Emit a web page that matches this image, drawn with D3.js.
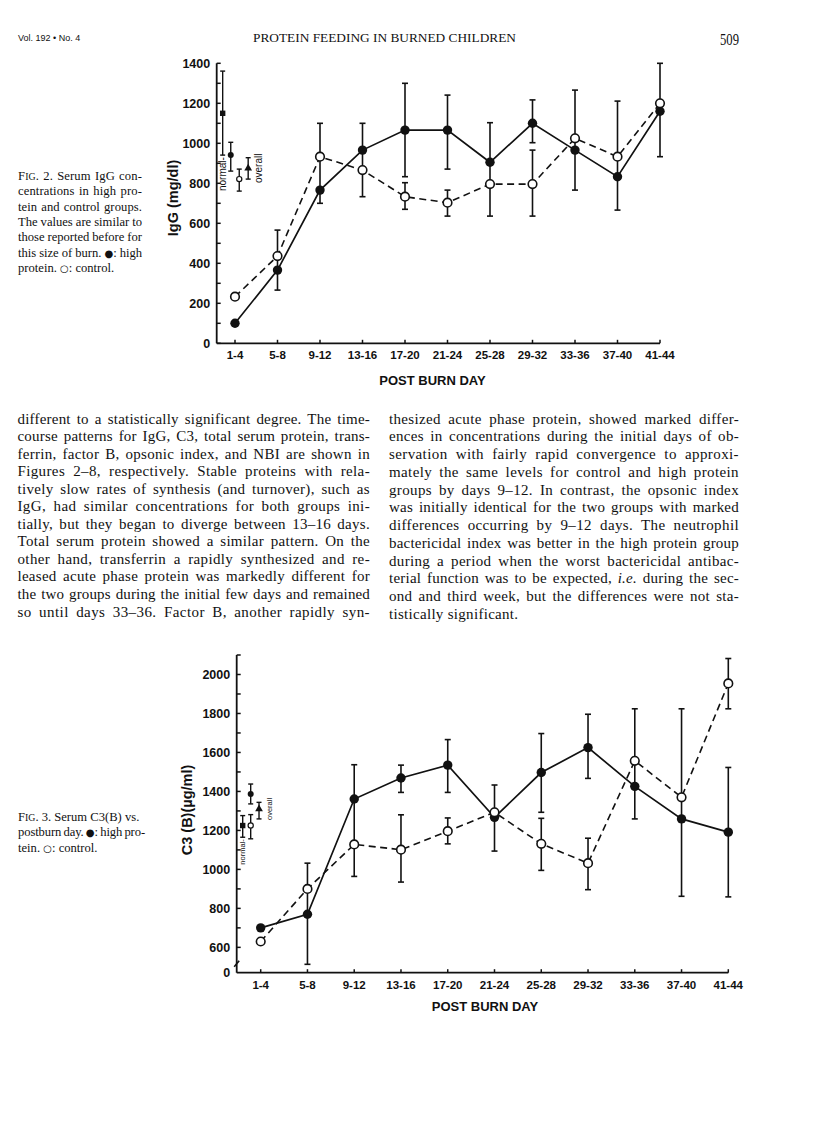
<!DOCTYPE html>
<html>
<head>
<meta charset="utf-8">
<script src="https://cdn.jsdelivr.net/npm/d3@7"></script>
<style>
  html, body { margin: 0; padding: 0; background: #fff; }
  svg { display: block; }
</style>
</head>
<body>
<script>
// ---------------- DATA ----------------
const categories = ["1-4","5-8","9-12","13-16","17-20","21-24","25-28","29-32","33-36","37-40","41-44"];

// Fig. 2 — Serum IgG (mg/dl)
const igGHigh   = [100, 366, 766, 966, 1066, 1066, 905, 1100, 966, 833, 1160];
const igGHighLo = [null, 266, 700, 966, 833, 871, 796, 1003, 766, 666, 933];
const igGHighHi = [null, 436, 933, 1100, 1300, 1241, 1103, 1217, 1025, 933, 1200];
const igGCtrl   = [233, 436, 933, 866, 733, 703, 796, 796, 1025, 933, 1200];
const igGCtrlLo = [null, 436, 933, 733, 670, 636, 636, 636, 1025, 933, 1200];
const igGCtrlHi = [null, 566, 1100, 966, 803, 766, 796, 966, 1266, 1211, 1400];
const igGRefValues = [1150, 941, 821, 875];
const igGRefLo     = [941, 861, 761, 821];
const igGRefHi     = [1361, 1005, 871, 928];
const igGTickLabels = ["0","200","400","600","800","1000","1200","1400"];

// Fig. 3 — Serum C3(B) (µg/ml)
const c3High   = [700, 770, 1361, 1469, 1535, 1267, 1497, 1625, 1426, 1259, 1191];
const c3HighLo = [null, 513, 1128, 1395, 1395, 1094, 1293, 1467, 1259, 862, 859];
const c3HighHi = [null, 900, 1537, 1535, 1666, 1293, 1697, 1796, 1557, 1370, 1523];
const c3Ctrl   = [630, 900, 1128, 1101, 1196, 1293, 1131, 1032, 1557, 1370, 1954];
const c3CtrlLo = [null, 900, 964, 935, 1131, 1293, 995, 896, 1557, 1370, 1824];
const c3CtrlHi = [null, 1032, 1128, 1280, 1264, 1433, 1262, 1160, 1824, 1824, 2082];
const c3RefValues = [1225, 1387, 1225, 1310];
const c3RefLo     = [1165, 1336, 1157, 1259];
const c3RefHi     = [1276, 1438, 1281, 1344];
const c3TickLabels = ["600","800","1000","1200","1400","1600","1800","2000"];

// ---------------- LAYOUT / STYLE ----------------
const W = 816, H = 1138;
const SANS = "'Liberation Sans', Arial, sans-serif";
const SERIF = "'Liberation Serif', 'Times New Roman', serif";
const refShapes = ["square", "dot", "open", "triangle"];

const svg = d3.select("body").append("svg").attr("width", W).attr("height", H);
svg.append("rect").attr("width", W).attr("height", H).attr("fill", "#fff");

// ---------- text helpers ----------
// _x_ = italic, {x} = small caps, [x] = symbol glyph
function textLine(parent, x, y, str, opts) {
  const t = parent.append("text")
    .attr("x", x).attr("y", y)
    .attr("font-family", opts.family)
    .attr("font-size", opts.size)
    .attr("fill", "#111");
  const parts = str.split(/(_[^_]+_|\{[^}]+\}|\[[^\]]+\])/).filter(s => s.length);
  let nChars = 0;
  parts.forEach(p => {
    const ts = t.append("tspan");
    let txt = p;
    if (p[0] === "_") { txt = p.slice(1, -1); ts.attr("font-style", "italic"); }
    else if (p[0] === "{") { txt = p.slice(1, -1); ts.attr("font-size", opts.size * 0.78); }
    else if (p[0] === "[") { txt = p.slice(1, -1); ts.attr("font-family", "'DejaVu Sans', sans-serif").attr("font-size", opts.size * 0.8); }
    ts.text(txt);
    nChars += txt.length;
  });
  const spaces = (str.match(/ /g) || []).length;
  if (opts.width) {
    const natural = t.node().getComputedTextLength();
    const extra = opts.width - natural;
    const ls = Math.max(-0.3, Math.min(0.45, extra * 0.45 / nChars));
    t.attr("letter-spacing", ls);
    const rest = extra - ls * nChars;
    if (spaces) t.attr("word-spacing", rest / spaces);
  } else if (opts.ls) {
    t.attr("letter-spacing", opts.ls);
  }
  return t;
}

// ---------- header ----------
svg.append("text").attr("x", 18).attr("y", 41).attr("font-family", "'Liberation Sans Narrow', " + SANS)
  .attr("font-size", 9).attr("fill", "#111").text("Vol. 192 \u2022 No. 4");
svg.append("text").attr("x", 253).attr("y", 42).attr("font-family", SERIF)
  .attr("font-size", 12).attr("textLength", 263).attr("lengthAdjust", "spacingAndGlyphs")
  .attr("fill", "#111").text("PROTEIN FEEDING IN BURNED CHILDREN");
svg.append("text").attr("x", 720).attr("y", 45).attr("font-family", SERIF)
  .attr("font-size", 17).attr("textLength", 19).attr("lengthAdjust", "spacingAndGlyphs")
  .attr("fill", "#111").text("509");

// ---------- captions ----------
const cap2 = [
  "F{IG}. 2. Serum IgG con-",
  "centrations in high pro-",
  "tein and control groups.",
  "The values are similar to",
  "those reported before for",
  "this size of burn. [\u25CF]: high",
  "protein. [\u25CB]: control."
];
cap2.forEach((s, i) => textLine(svg, 18, 180 + i * 15.35, s,
  { family: SERIF, size: 12.6, width: i < cap2.length - 1 ? 124 : null }));

const cap3 = [
  "F{IG}. 3. Serum C3(B) vs.",
  "postburn day. [\u25CF]: high pro-",
  "tein. [\u25CB]: control."
];
cap3.forEach((s, i) => textLine(svg, 18, 821 + i * 15.35, s,
  { family: SERIF, size: 12.6, width: i === 1 ? 127 : null }));

// ---------- body text ----------
const leftCol = [
  "different to a statistically significant degree. The time-",
  "course patterns for IgG, C3, total serum protein, trans-",
  "ferrin, factor B, opsonic index, and NBI are shown in",
  "Figures 2\u20138, respectively. Stable proteins with rela-",
  "tively slow rates of synthesis (and turnover), such as",
  "IgG, had similar concentrations for both groups ini-",
  "tially, but they began to diverge between 13\u201316 days.",
  "Total serum protein showed a similar pattern. On the",
  "other hand, transferrin a rapidly synthesized and re-",
  "leased acute phase protein was markedly different for",
  "the two groups during the initial few days and remained",
  "so until days 33\u201336. Factor B, another rapidly syn-"
];
const rightCol = [
  "thesized acute phase protein, showed marked differ-",
  "ences in concentrations during the initial days of ob-",
  "servation with fairly rapid convergence to approxi-",
  "mately the same levels for control and high protein",
  "groups by days 9\u201312. In contrast, the opsonic index",
  "was initially identical for the two groups with marked",
  "differences occurring by 9\u201312 days. The neutrophil",
  "bactericidal index was better in the high protein group",
  "during a period when the worst bactericidal antibac-",
  "terial function was to be expected, _i.e._ during the sec-",
  "ond and third week, but the differences were not sta-",
  "tistically significant."
];
leftCol.forEach((s, i) => textLine(svg, 17.5, 423.5 + i * 17.55, s,
  { family: SERIF, size: 15, width: 352.5 }));
rightCol.forEach((s, i) => textLine(svg, 389, 423.5 + i * 17.75, s,
  { family: SERIF, size: 15, width: i < rightCol.length - 1 ? 350 : null, ls: 0.3 }));

// ---------- chart drawing ----------
function drawChart(o) {
  const g = svg.append("g");
  const x = o.x, y = o.y;
  const base = y.range()[0];
  const ink = "#111";

  // y axis
  g.append("line").attr("x1", o.axisX).attr("x2", o.axisX)
    .attr("y1", base).attr("y2", o.axisTopY)
    .attr("stroke", ink).attr("stroke-width", 1.8);
  o.minorTicks.forEach(v => {
    g.append("line").attr("x1", o.axisX).attr("x2", o.axisX + 4)
      .attr("y1", y(v)).attr("y2", y(v)).attr("stroke", ink).attr("stroke-width", 1.5);
  });
  o.tickLabels.forEach(lbl => {
    const v = +lbl;
    g.append("line").attr("x1", o.axisX).attr("x2", o.axisX + 4)
      .attr("y1", y(v)).attr("y2", y(v)).attr("stroke", ink).attr("stroke-width", 1.5);
    g.append("text").attr("x", o.axisX - 6.5).attr("y", y(v)).attr("dy", "0.36em")
      .attr("text-anchor", "end").attr("font-family", SANS).attr("font-weight", "bold")
      .attr("font-size", 12.5).attr("fill", ink).text(lbl);
  });
  if (o.zeroLabel) {
    g.append("text").attr("x", o.axisX - 6.5).attr("y", base).attr("dy", "0.36em")
      .attr("text-anchor", "end").attr("font-family", SANS).attr("font-weight", "bold")
      .attr("font-size", 12.5).attr("fill", ink).text(o.zeroLabel);
    g.append("line").attr("x1", o.axisX - 2.5).attr("x2", o.axisX + 2.5)
      .attr("y1", base - 6).attr("y2", base - 12).attr("stroke", ink).attr("stroke-width", 1.6);
  }
  // y title
  g.append("text")
    .attr("transform", `translate(${o.yTitleX},${o.yTitleY}) rotate(-90)`)
    .attr("text-anchor", "middle").attr("dy", "0.35em")
    .attr("font-family", SANS).attr("font-weight", "bold").attr("font-size", 14.5)
    .attr("fill", ink).text(o.yTitle);

  // x axis
  g.append("line").attr("x1", o.axisX).attr("x2", x(categories.length - 1))
    .attr("y1", base).attr("y2", base).attr("stroke", ink).attr("stroke-width", 1.8);
  categories.forEach((c, i) => {
    g.append("line").attr("x1", x(i)).attr("x2", x(i)).attr("y1", base).attr("y2", base - 3.5)
      .attr("stroke", ink).attr("stroke-width", 1.5);
    g.append("text").attr("x", x(i)).attr("y", base + 16).attr("text-anchor", "middle")
      .attr("font-family", SANS).attr("font-weight", "bold").attr("font-size", 11.5)
      .attr("fill", ink).text(c);
  });
  g.append("text").attr("x", o.xTitleX).attr("y", base + o.xTitleDy).attr("text-anchor", "middle")
    .attr("font-family", SANS).attr("font-weight", "bold").attr("font-size", 13)
    .attr("fill", ink).text("POST BURN DAY");

  // error bars
  function errBars(lo, hi, xs) {
    lo.forEach((l, i) => {
      if (l == null) return;
      const xx = xs(i), y1 = y(l), y2 = y(hi[i]);
      g.append("line").attr("x1", xx).attr("x2", xx).attr("y1", y1).attr("y2", y2)
        .attr("stroke", ink).attr("stroke-width", 1.6);
      [y1, y2].forEach(yy => g.append("line").attr("x1", xx - 3).attr("x2", xx + 3)
        .attr("y1", yy).attr("y2", yy).attr("stroke", ink).attr("stroke-width", 1.6));
    });
  }
  errBars(o.highLo, o.highHi, x);
  errBars(o.ctrlLo, o.ctrlHi, x);

  // lines
  const line = d3.line().x((d, i) => x(i)).y(d => y(d));
  g.append("path").datum(o.high).attr("d", line).attr("fill", "none")
    .attr("stroke", ink).attr("stroke-width", 1.7);
  g.append("path").datum(o.ctrl).attr("d", line).attr("fill", "none")
    .attr("stroke", ink).attr("stroke-width", 1.6).attr("stroke-dasharray", "7,4.5");

  // markers
  o.high.forEach((v, i) => g.append("circle").attr("cx", x(i)).attr("cy", y(v)).attr("r", 4.7).attr("fill", ink));
  o.ctrl.forEach((v, i) => g.append("circle").attr("cx", x(i)).attr("cy", y(v)).attr("r", 4.3)
    .attr("fill", "#fff").attr("stroke", ink).attr("stroke-width", 1.6));

  // reference (normal / overall) values
  o.refValues.forEach((v, i) => {
    const xx = x(o.refPos[i]);
    g.append("line").attr("x1", xx).attr("x2", xx).attr("y1", y(o.refLo[i])).attr("y2", y(o.refHi[i]))
      .attr("stroke", ink).attr("stroke-width", 1.4);
    [o.refLo[i], o.refHi[i]].forEach(e => g.append("line").attr("x1", xx - 2.5).attr("x2", xx + 2.5)
      .attr("y1", y(e)).attr("y2", y(e)).attr("stroke", ink).attr("stroke-width", 1.4));
    const yy = y(v), shape = refShapes[i];
    if (shape === "square") g.append("rect").attr("x", xx - 2.7).attr("y", yy - 2.7).attr("width", 5.4).attr("height", 5.4).attr("fill", ink);
    else if (shape === "dot") g.append("circle").attr("cx", xx).attr("cy", yy).attr("r", 3).attr("fill", ink);
    else if (shape === "open") g.append("circle").attr("cx", xx).attr("cy", yy).attr("r", 2.6).attr("fill", "#fff").attr("stroke", ink).attr("stroke-width", 1.2);
    else g.append("path").attr("d", d3.symbol().type(d3.symbolTriangle).size(26)()).attr("transform", `translate(${xx},${yy})`).attr("fill", ink);
  });
  // labels "normal-" and "overall"
  g.append("text")
    .attr("transform", `translate(${x(o.refPos[0]) + o.refFont * 0.35},${y(o.refLo[0]) + 2})rotate(-90)`)
    .attr("text-anchor", "end").attr("font-family", SANS).attr("font-size", o.refFont)
    .attr("fill", ink).text("normal-");
  g.append("text")
    .attr("transform", `translate(${x(o.refPos[3]) + o.overallDx},${y(o.refValues[3])})rotate(-90)`)
    .attr("text-anchor", "middle").attr("dy", "0.35em").attr("font-family", SANS).attr("font-size", o.refFont)
    .attr("fill", ink).text("overall");
}

// Fig. 2
drawChart({
  x: d3.scaleLinear().domain([0, categories.length - 1]).range([235, 660]),
  y: d3.scaleLinear().domain([0, 1400]).range([343.3, 63.3]),
  axisX: 216.7, axisTopY: 63.3,
  tickLabels: igGTickLabels,
  minorTicks: d3.range(100, 1400, 200),
  yTitle: "IgG (mg/dl)", yTitleX: 173, yTitleY: 198,
  xTitleX: 432.5, xTitleDy: 42,
  high: igGHigh, highLo: igGHighLo, highHi: igGHighHi,
  ctrl: igGCtrl, ctrlLo: igGCtrlLo, ctrlHi: igGCtrlHi,
  refValues: igGRefValues, refLo: igGRefLo, refHi: igGRefHi,
  refPos: [-0.29, -0.10, 0.10, 0.31],
  refFont: 10, overallDx: 10
});

// Fig. 3 (broken axis: zero shown at base)
drawChart({
  x: d3.scaleLinear().domain([0, categories.length - 1]).range([260.7, 728.3]),
  y: d3.scaleLinear().domain([470, 2100]).range([972.7, 655]),
  axisX: 236.7, axisTopY: 655,
  tickLabels: c3TickLabels,
  minorTicks: d3.range(700, 2101, 200),
  zeroLabel: "0",
  yTitle: "C3 (B)(\u00B5g/ml)", yTitleX: 187, yTitleY: 810,
  xTitleX: 485, xTitleDy: 38,
  high: c3High, highLo: c3HighLo, highHi: c3HighHi,
  ctrl: c3Ctrl, ctrlLo: c3CtrlLo, ctrlHi: c3CtrlHi,
  refValues: c3RefValues, refLo: c3RefLo, refHi: c3RefHi,
  refPos: [-0.385, -0.214, -0.214, -0.036],
  refFont: 7.5, overallDx: 10
});
</script>
</body>
</html>
